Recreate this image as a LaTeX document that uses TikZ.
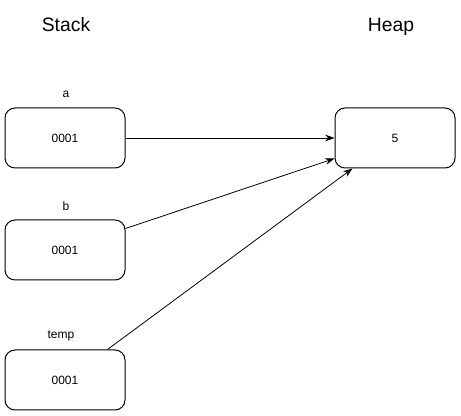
\documentclass[tikz,border=0pt]{standalone}
\usepackage{fontspec}
\setmainfont{Liberation Sans}
\usetikzlibrary{arrows.meta}

\begin{document}
\begin{tikzpicture}[x=0.75pt, y=-0.75pt,
    cell/.style={draw, line width=0.75pt, rounded corners=7.5pt,
        minimum width=90pt, minimum height=45pt, inner sep=0pt, font=\fontsize{9}{11}\selectfont},
    varname/.style={font=\fontsize{9}{11}\selectfont},
    title/.style={font=\fontsize{14.5}{17}\selectfont},
    ref/.style={-{Stealth[length=7pt,width=5pt]}, line width=0.6pt}]
    \useasboundingbox (0,0) rectangle (461,416);

    % Titles
    \node[title] (stack) at (66,25) {Stack};
    \node[title] (heap title) at (391,27) {Heap};

    % Stack variables
    \node[cell] (a) at (65,138) {0001};
    \node[varname] (la) at (66,94) {a};
    \node[cell] (b) at (65,250) {0001};
    \node[varname] (lb) at (66,206) {b};
    \node[cell] (temp) at (65,380) {0001};
    \node[varname] (ltemp) at (61,336) {temp};

    % Heap object
    \node[cell] (obj) at (395,138) {5};

    % References
    \draw[ref] (a) -- (obj);
    \draw[ref] ([yshift=-6.75pt]b.north east) -- ([yshift=7.5pt]obj.south west);
    \draw[ref] ([xshift=-13.5pt]temp.north east) -- ([xshift=13.5pt]obj.south west);
\end{tikzpicture}
\end{document}
